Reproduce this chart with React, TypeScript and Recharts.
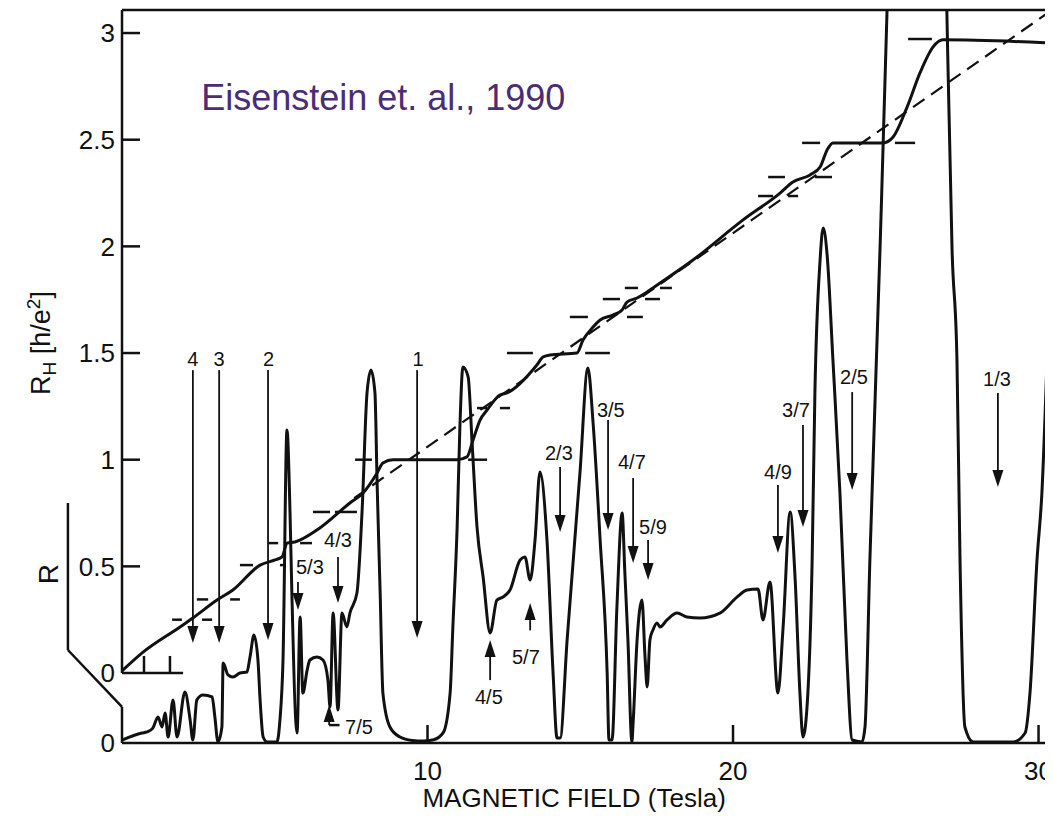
import React from "react";
import { LineChart, Line, XAxis, YAxis, ReferenceLine, ReferenceDot } from "recharts";

const FONT = '"Liberation Sans", Arial, Helvetica, sans-serif';
const INK = "#111";

// shared vertical axis: R_H in h/e^2, the R trace hangs below it on its own zero
const R_ZERO = -0.328;
const Y_TOP = 3.108;
const X_MAX = 30.31;

// Hall resistance R_H (solid)
const hallField = [0, 0.69, 1.9, 2.32, 3.11, 3.63, 4.52, 5.01, 5.24, 5.4, 5.66, 6.38, 7.46, 7.89, 8.35, 8.54, 8.87, 10.97, 11.29, 11.49, 11.72, 11.95, 12.37, 12.6, 13.58, 13.78, 14.01, 14.89, 15.09, 15.42, 15.65, 16.07, 16.37, 16.53, 16.86, 17.19, 17.38, 18.69, 20.33, 21.54, 21.96, 22.52, 22.85, 23.08, 23.27, 24.91, 25.24, 25.7, 26.12, 26.55, 26.87, 30.31];
const hallValue = [0.01, 0.098, 0.216, 0.258, 0.342, 0.389, 0.506, 0.53, 0.544, 0.609, 0.614, 0.67, 0.797, 0.844, 0.938, 0.985, 1.0, 1.0, 1.013, 1.092, 1.186, 1.233, 1.303, 1.313, 1.444, 1.481, 1.491, 1.5, 1.561, 1.622, 1.655, 1.678, 1.702, 1.739, 1.758, 1.786, 1.805, 1.936, 2.124, 2.25, 2.302, 2.335, 2.372, 2.452, 2.485, 2.485, 2.513, 2.654, 2.813, 2.935, 2.968, 2.954];

// classical Hall line (dashed)
const classicalField = [7.6, 30.31];
const classicalValue = [0.82, 3.095];

// longitudinal resistance R, height above its own zero line
const rField = [0, 0.65, 0.82, 1.01, 1.18, 1.31, 1.41, 1.51, 1.67, 1.8, 2.06, 2.23, 2.32, 2.45, 2.65, 2.95, 3.04, 3.14, 3.27, 3.31, 3.47, 3.63, 3.86, 4.09, 4.19, 4.32, 4.45, 4.52, 4.62, 4.75, 5.07, 5.17, 5.27, 5.4, 5.5, 5.56, 5.73, 5.83, 5.92, 6.06, 6.15, 6.38, 6.58, 6.74, 6.81, 6.91, 7.07, 7.2, 7.36, 7.46, 7.69, 7.86, 8.02, 8.15, 8.28, 8.35, 8.45, 8.54, 8.77, 9.1, 9.5, 9.85, 10.2, 10.51, 10.74, 10.83, 10.97, 11.06, 11.16, 11.33, 11.46, 11.62, 11.82, 12.05, 12.27, 12.47, 12.7, 13.03, 13.19, 13.36, 13.52, 13.68, 13.91, 14.11, 14.24, 14.34, 14.57, 14.99, 15.25, 15.42, 15.65, 15.88, 15.94, 16.04, 16.2, 16.37, 16.46, 16.56, 16.69, 16.73, 16.86, 17.02, 17.12, 17.19, 17.28, 17.38, 17.51, 17.61, 17.84, 18.17, 18.49, 18.92, 19.57, 20.13, 20.46, 20.82, 20.98, 21.21, 21.47, 21.64, 21.87, 22.03, 22.19, 22.29, 22.45, 22.59, 22.68, 22.85, 22.95, 23.08, 23.27, 23.5, 23.73, 23.9, 24.22, 24.32, 24.48, 24.81, 25.04, 25.24, 26.84, 27.0, 27.17, 27.33, 27.43, 27.59, 27.86, 29.17, 29.56, 29.72, 29.95, 30.11, 30.31];
const rValue = [0.014, 0.047, 0.052, 0.07, 0.122, 0.075, 0.141, 0.028, 0.202, 0.028, 0.239, 0.108, 0.014, 0.202, 0.225, 0.216, 0.122, 0.005, 0.075, 0.375, 0.319, 0.309, 0.328, 0.333, 0.403, 0.506, 0.389, 0.202, 0.028, 0.005, 0.005, 0.108, 0.389, 1.467, 1.078, 0.703, 0.047, 0.591, 0.234, 0.342, 0.389, 0.403, 0.389, 0.295, 0.169, 0.609, 0.155, 0.609, 0.544, 0.609, 0.703, 1.092, 1.641, 1.749, 1.641, 1.219, 0.703, 0.234, 0.075, 0.028, 0.012, 0.009, 0.015, 0.047, 0.234, 0.544, 1.013, 1.481, 1.763, 1.716, 1.406, 1.013, 0.778, 0.516, 0.67, 0.684, 0.717, 0.858, 0.872, 0.764, 0.952, 1.27, 0.952, 0.328, 0.023, 0.023, 0.483, 1.266, 1.758, 1.5, 0.952, 0.328, 0.014, 0.014, 0.638, 1.078, 0.797, 0.483, 0.005, 0.094, 0.483, 0.67, 0.403, 0.263, 0.483, 0.53, 0.563, 0.544, 0.577, 0.609, 0.591, 0.586, 0.609, 0.684, 0.717, 0.722, 0.577, 0.755, 0.234, 0.544, 1.083, 0.778, 0.234, 0.028, 0.234, 0.858, 1.641, 2.264, 2.414, 2.288, 1.796, 1.172, 0.389, 0.014, 0.005, 0.075, 0.858, 2.311, 3.427, 4.655, 4.655, 3.427, 2.311, 1.796, 0.858, 0.075, 0.005, 0.005, 0.047, 0.234, 0.858, 1.172, 1.936];

// short plateau markers: level, then two field ranges
const plateauLevel = [0.25, 0.345, 0.506, 0.609, 0.755, 1.0, 1.242, 1.5, 1.669, 1.753, 1.805, 2.236, 2.325, 2.485, 2.972];
const plateauLeft = [[1.64, 1.96], [2.45, 2.82], [3.86, 4.29], [4.78, 5.11], [6.25, 6.81], [7.63, 8.18], [11.62, 11.95], [12.6, 13.45], [14.66, 15.25], [15.74, 16.3], [16.46, 16.89], [20.82, 21.31], [21.15, 21.7], [22.26, 22.85], [25.73, 26.51]];
const plateauRight = [[2.62, 2.95], [3.54, 3.86], [5.17, 5.34], [5.83, 6.22], [6.97, 7.69], [11.33, 11.95], [12.37, 12.7], [15.16, 15.97], [16.53, 17.05], [17.12, 17.61], [17.61, 18.0], [21.8, 22.13], [22.68, 23.24], [25.3, 25.96], null];

// filling-factor arrows
const arrowLabel = ["4", "3", "2", "1", "5/3", "4/3", "7/5", "4/5", "5/7", "2/3", "3/5", "4/7", "5/9", "4/9", "3/7", "2/5", "1/3"];
const arrowField = [2.32, 3.18, 4.78, 9.66, 5.76, 7.07, 6.78, 12.05, 13.36, 14.34, 15.91, 16.73, 17.22, 21.47, 22.29, 23.9, 28.67];
const arrowTail = [1.42, 1.42, 1.42, 1.42, 0.427, 0.544, -0.244, -0.033, 0.2, 0.966, 1.186, 0.914, 0.624, 0.881, 1.163, 1.317, 1.313];
const arrowTip = [0.141, 0.141, 0.155, 0.164, 0.295, 0.328, -0.15, 0.155, 0.328, 0.661, 0.67, 0.516, 0.436, 0.563, 0.684, 0.858, 0.872];
const labelField = [2.32, 3.18, 4.8, 9.69, 6.15, 7.07, 7.3, 12.01, 13.22, 14.3, 16.0, 16.69, 17.38, 21.47, 22.06, 23.96, 28.64];
const labelLevel = [1.472, 1.472, 1.472, 1.472, 0.497, 0.624, -0.253, -0.113, 0.075, 1.031, 1.233, 0.989, 0.684, 0.942, 1.233, 1.388, 1.378];

const yTicks = [R_ZERO, 0, 0.5, 1, 1.5, 2, 2.5, 3];
const xTicks = [10, 20, 30];

const hallData = hallField.map((b, i) => ({ b, v: hallValue[i] }));
const classicalData = classicalField.map((b, i) => ({ b, v: classicalValue[i] }));
const rData = rField.map((b, i) => ({ b, r: rValue[i] }));

type Pt = { x: number; y: number };
const frameSegments: [Pt, Pt][] = [
	[{ x: 0, y: 0 }, { x: 0, y: Y_TOP }],
	[{ x: 0, y: Y_TOP }, { x: X_MAX, y: Y_TOP }],
	[{ x: X_MAX, y: Y_TOP }, { x: X_MAX, y: R_ZERO }],
	[{ x: 0, y: 0 }, { x: 2.0, y: 0 }],
	[{ x: 0.72, y: 0 }, { x: 0.72, y: 0.08 }],
	[{ x: 1.57, y: 0 }, { x: 1.57, y: 0.08 }],
	[{ x: 0, y: R_ZERO }, { x: 0, y: -0.159 }],
	[{ x: 0, y: -0.159 }, { x: -1.77, y: 0.108 }],
	[{ x: -1.77, y: 0.108 }, { x: -1.77, y: 0.797 }],
	[{ x: 6.78, y: -0.244 }, { x: 7.12, y: -0.244 }],
];

function YTick(props: any) {
	const { x, y, payload } = props;
	const v = payload.value;
	return (
		<g>
			<text x={x} y={y} dy="0.36em" textAnchor="end" fontFamily={FONT} fontSize={26} fill={INK}>
				{v <= 0 ? "0" : String(v)}
			</text>
			{v > 0 && <line x1={x + 7} x2={x + 25} y1={y} y2={y} stroke={INK} strokeWidth={2.5} />}
		</g>
	);
}

function XTick(props: any) {
	const { x, y, payload } = props;
	return (
		<g>
			<line x1={x} x2={x} y1={y} y2={y - 18} stroke={INK} strokeWidth={2.5} />
			<text x={x} y={y + 37} textAnchor="middle" fontFamily={FONT} fontSize={26} fill={INK}>
				{payload.value}
			</text>
		</g>
	);
}

function ArrowShape(props: any) {
	const { x1, y1, x2, y2 } = props;
	const dir = y2 > y1 ? 1 : -1;
	const head = 17;
	const half = 5.5;
	const baseY = y2 - dir * head;
	return (
		<g>
			<line x1={x1} y1={y1} x2={x2} y2={baseY} stroke={INK} strokeWidth={1.8} />
			<polygon points={`${x2 - half},${baseY} ${x2 + half},${baseY} ${x2},${y2}`} fill={INK} />
		</g>
	);
}

const textAt = (content: React.ReactNode, anchor: string, size: number, color = INK) => (p: any) => (
	<text x={p.cx} y={p.cy} textAnchor={anchor} dy="0.36em" fontFamily={FONT} fontSize={size} fill={color}>
		{content}
	</text>
);

const rotatedAt = (content: React.ReactNode, size: number) => (p: any) => (
	<text
		x={p.cx}
		y={p.cy}
		transform={`rotate(-90 ${p.cx} ${p.cy})`}
		textAnchor="middle"
		fontFamily={FONT}
		fontSize={size}
		fill={INK}
	>
		{content}
	</text>
);

export default function App() {
	return (
		<div style={{ width: 1053, height: 826, margin: "-8px 0 0 -8px" }}>
			<style>{"html,body{overflow:hidden}"}</style>
			<LineChart
				width={1053}
				height={826}
				margin={{ top: 10, right: 5, bottom: 3, left: 8 }}
				style={{ overflow: "visible" }}
			>
				<XAxis
					dataKey="b"
					type="number"
					domain={[0, X_MAX]}
					ticks={xTicks}
					interval={0}
					allowDataOverflow
					height={80}
					tickSize={0}
					tickMargin={0}
					tickLine={false}
					tick={<XTick />}
					axisLine={{ stroke: INK, strokeWidth: 2.5 }}
				/>
				<YAxis
					type="number"
					domain={[R_ZERO, Y_TOP]}
					ticks={yTicks}
					interval={0}
					allowDataOverflow
					width={114}
					tickSize={0}
					tickMargin={7}
					tickLine={false}
					axisLine={false}
					tick={<YTick />}
				/>
				{frameSegments.map((s, i) => (
					<ReferenceLine key={`f${i}`} segment={s} stroke={INK} strokeWidth={2.5} ifOverflow="visible" />
				))}
				<Line
					data={classicalData}
					dataKey="v"
					type="linear"
					stroke={INK}
					strokeWidth={2.2}
					strokeDasharray="14 8"
					dot={false}
					activeDot={false}
					isAnimationActive={false}
				/>
				<Line
					data={rData}
					dataKey={(d: any) => R_ZERO + d.r}
					type="monotoneX"
					stroke={INK}
					strokeWidth={3}
					dot={false}
					activeDot={false}
					isAnimationActive={false}
				/>
				<Line
					data={hallData}
					dataKey="v"
					type="monotoneX"
					stroke={INK}
					strokeWidth={3}
					dot={false}
					activeDot={false}
					isAnimationActive={false}
				/>
				{plateauLevel.map((lv, i) => (
					<React.Fragment key={`p${i}`}>
						<ReferenceLine
							segment={[{ x: plateauLeft[i][0], y: lv }, { x: plateauLeft[i][1], y: lv }]}
							stroke={INK}
							strokeWidth={2.5}
							ifOverflow="visible"
						/>
						{plateauRight[i] && (
							<ReferenceLine
								segment={[{ x: plateauRight[i]![0], y: lv }, { x: plateauRight[i]![1], y: lv }]}
								stroke={INK}
								strokeWidth={2.5}
								ifOverflow="visible"
							/>
						)}
					</React.Fragment>
				))}
				{arrowLabel.map((lab, i) => (
					<React.Fragment key={`a${i}`}>
						<ReferenceLine
							segment={[{ x: arrowField[i], y: arrowTail[i] }, { x: arrowField[i], y: arrowTip[i] }]}
							ifOverflow="visible"
							shape={(p: any) => <ArrowShape {...p} />}
						/>
						<ReferenceDot
							x={labelField[i]}
							y={labelLevel[i]}
							r={0}
							ifOverflow="visible"
							shape={textAt(lab, lab === "7/5" ? "start" : "middle", 20)}
						/>
					</React.Fragment>
				))}
				<ReferenceDot
					x={2.59}
					y={2.7}
					r={0}
					ifOverflow="visible"
					shape={textAt("Eisenstein et. al., 1990", "start", 36, "#4b2d73")}
				/>
				<ReferenceDot
					x={14.8}
					y={-0.585}
					r={0}
					ifOverflow="visible"
					shape={textAt("MAGNETIC FIELD (Tesla)", "middle", 26)}
				/>
				<ReferenceDot
					x={-2.36}
					y={1.547}
					r={0}
					ifOverflow="visible"
					shape={rotatedAt(
						<>
							R<tspan fontSize={19} dy={6}>H</tspan>
							<tspan dy={-6}> [h/e</tspan>
							<tspan fontSize={19} dy={-10}>2</tspan>
							<tspan dy={10}>]</tspan>
						</>,
						27,
					)}
				/>
				<ReferenceDot x={-2.09} y={0.464} r={0} ifOverflow="visible" shape={rotatedAt("R", 28)} />
			</LineChart>
		</div>
	);
}
